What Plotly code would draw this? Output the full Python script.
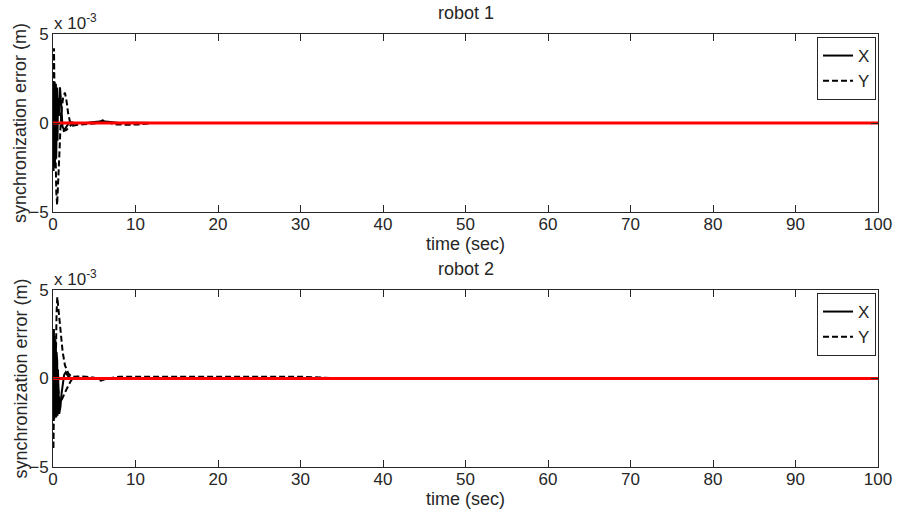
import plotly.graph_objects as go
from plotly.subplots import make_subplots

# ---- data (errors in units of 1e-3 m) ----
# robot 1
r1_x_t = [0, 0.03, 0.07, 0.11, 0.15, 0.19, 0.23, 0.27, 0.31, 0.35, 0.39, 0.43, 0.47, 0.51, 0.55,
          0.6, 0.7, 0.85, 1.0, 1.15, 1.35, 1.6, 2.0, 2.5, 3.0, 4.0, 5.0, 6.0, 7.0, 8.0, 10.0, 12.0, 100]
r1_x_v = [0, 2.3, -2.7, 2.2, -2.6, 2.3, -2.5, 2.1, -2.2, 2.2, -2.0, 1.9, -1.6, 2.0, -1.0,
          1.4, 0.4, 2.0, 1.0, -0.2, -0.4, -0.2, 0.05, 0.02, 0.0, 0.0, 0.05, 0.1, 0.05, 0.0, 0.02, 0.0, 0.0]

r1_y_t = [0, 0.06, 0.12, 0.2, 0.3, 0.4, 0.5, 0.6, 0.75, 0.9, 1.05, 1.25, 1.45, 1.65, 1.85,
          2.1, 2.4, 3.0, 3.5, 4.5, 5.5, 6.0, 6.5, 7.5, 9.0, 10.5, 12.0, 100]
r1_y_v = [0, 2.5, 4.2, 1.0, -2.5, -3.9, -4.6, -3.8, -2.0, -0.3, 0.8, 1.5, 1.7, 1.2, 0.5,
          0.0, -0.15, -0.1, -0.08, -0.08, 0.0, 0.15, 0.08, -0.08, -0.1, -0.08, 0.0, 0.0]

r1_y2_t = [0.9, 1.1, 1.3, 1.6, 1.9, 2.2, 2.6]
r1_y2_v = [0.6, -0.2, -0.45, -0.4, -0.25, -0.1, 0.0]

# robot 2
r2_x_t = [0, 0.03, 0.07, 0.11, 0.15, 0.19, 0.23, 0.27, 0.31, 0.35, 0.39, 0.43, 0.47, 0.51, 0.55,
          0.6, 0.75, 0.9, 1.05, 1.2, 1.35, 1.55, 1.8, 2.2, 3.0, 5.0, 8.0, 100]
r2_x_v = [0, 2.6, -2.1, 2.8, -2.3, 2.4, -2.2, 2.2, -2.0, 1.9, -2.2, 1.5, -2.0, 1.0, -2.1,
          0.5, -2.0, -1.6, -0.8, -0.2, 0.2, 0.35, 0.15, 0.0, 0.0, 0.0, 0.0, 0.0]

r2_y_t = [0, 0.05, 0.12, 0.2, 0.28, 0.36, 0.44, 0.52, 0.65, 0.85, 1.17, 1.45, 1.86, 2.26, 3.0,
          4.0, 5.0, 5.8, 6.6, 8.0, 10.0, 14.0, 18.0, 22.0, 26.0, 30.0, 35.0, 100]
r2_y_v = [0, -4.0, -1.5, 1.0, -0.5, 2.5, 3.8, 4.6, 4.0, 3.0, 1.5, 0.74, 0.28, 0.1, 0.12,
          0.1, 0.05, -0.12, 0.0, 0.1, 0.1, 0.1, 0.08, 0.1, 0.08, 0.1, 0.0, 0.0]

r2_y2_t = [0.6, 0.85, 1.05, 1.25, 1.55, 1.86, 2.26, 2.8]
r2_y2_v = [-0.5, -1.35, -1.2, -0.97, -0.7, -0.4, -0.06, 0.0]

zero_t = [0, 100]
zero_v = [0, 0]

titles = ["robot 1", "robot 2"]
x_ticks = [0, 10, 20, 30, 40, 50, 60, 70, 80, 90, 100]
y_ticks = [-5, 0, 5]

FONT = "Liberation Sans, Arial, sans-serif"
W, H = 898, 512

fig = make_subplots(rows=2, cols=1)

panels = [
    (r1_x_t, r1_x_v, r1_y_t, r1_y_v, r1_y2_t, r1_y2_v),
    (r2_x_t, r2_x_v, r2_y_t, r2_y_v, r2_y2_t, r2_y2_v),
]
for i, (xt, xv, yt, yv, y2t, y2v) in enumerate(panels, start=1):
    leg = "legend" if i == 1 else "legend2"
    fig.add_trace(go.Scatter(x=xt, y=xv, mode="lines", name="X",
                             line=dict(color="black", width=2), legend=leg), row=i, col=1)
    fig.add_trace(go.Scatter(x=yt, y=yv, mode="lines", name="Y",
                             line=dict(color="black", width=2, dash="6px,3px"), legend=leg),
                  row=i, col=1)
    fig.add_trace(go.Scatter(x=y2t, y=y2v, mode="lines", showlegend=False,
                             line=dict(color="black", width=2, dash="6px,3px")), row=i, col=1)
    fig.add_trace(go.Scatter(x=zero_t, y=zero_v, mode="lines", showlegend=False,
                             line=dict(color="red", width=3)), row=i, col=1)

# axes geometry (pixels) -> paper fractions
x0, x1 = 53, 878
panel_px = [(34, 212), (290, 467)]
xdom = [x0 / W, x1 / W]

axis_common = dict(showline=True, linecolor="#262626", linewidth=1, mirror="allticks",
                   ticks="inside", ticklen=7, tickcolor="#262626", showgrid=False,
                   zeroline=False, automargin=False,
                   tickfont=dict(family=FONT, size=17, color="#262626"))

for i, (top, bot) in enumerate(panel_px, start=1):
    ydom = [1 - bot / H, 1 - top / H]
    fig.update_xaxes(domain=xdom, range=[0, 100], tickvals=x_ticks, ticklabelstandoff=-3,
                     row=i, col=1, **axis_common)
    fig.update_yaxes(domain=ydom, range=[-5, 5], tickvals=y_ticks, row=i, col=1, **axis_common)

annotations = []
for i, (top, bot) in enumerate(panel_px):
    mid = (top + bot) / 2
    annotations += [
        dict(text=titles[i], x=(x0 + x1) / 2 / W, y=1 - (top - 21) / H, xref="paper", yref="paper",
             showarrow=False, font=dict(family=FONT, size=18, color="#262626"),
             xanchor="center", yanchor="middle"),
        dict(text="time (sec)", x=(x0 + x1) / 2 / W, y=1 - (bot + 32) / H, xref="paper", yref="paper",
             showarrow=False, font=dict(family=FONT, size=18, color="#262626"),
             xanchor="center", yanchor="middle"),
        dict(text="synchronization error (m)", x=20 / W, y=1 - mid / H, xref="paper", yref="paper",
             showarrow=False, textangle=-90, font=dict(family=FONT, size=18, color="#262626"),
             xanchor="center", yanchor="middle"),
        dict(text="x 10<sup>-3</sup>", x=52 / W, y=1 - (top - 12) / H, xref="paper", yref="paper",
             showarrow=False, font=dict(family=FONT, size=17, color="#262626"),
             xanchor="left", yanchor="middle"),
    ]

legend_style = dict(xanchor="right", yanchor="top", bgcolor="white", bordercolor="#262626",
                    borderwidth=1, font=dict(family=FONT, size=17, color="#262626"),
                    itemwidth=30, tracegroupgap=0)

fig.update_layout(
    width=W, height=H, margin=dict(l=0, r=0, t=0, b=0, autoexpand=False),
    paper_bgcolor="white", plot_bgcolor="white",
    annotations=annotations,
    legend=dict(x=(x1 - 2) / W, y=1 - 37 / H, **legend_style),
    legend2=dict(x=(x1 - 2) / W, y=1 - 293 / H, **legend_style),
    showlegend=True,
)

fig.write_html("out.html")
